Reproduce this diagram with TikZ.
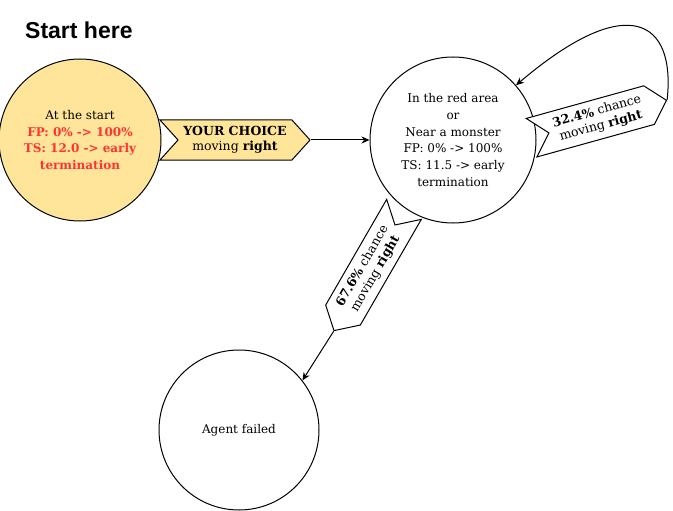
\documentclass[tikz,border=0pt]{standalone}
\usepackage{fontspec}
\setmainfont{DejaVu Serif}
\newfontfamily\headfont{Liberation Sans}
\usetikzlibrary{shapes.symbols,arrows.meta}
\definecolor{stateyellow}{HTML}{FFE599}
\definecolor{alertred}{HTML}{FF3333}
\tikzset{
  state/.style={circle, draw=black, line width=1pt, minimum size=162pt, inner sep=0pt,
    align=center, font=\fontsize{12}{16.7}\selectfont},
  tag/.style={signal, draw=black, line width=1pt, minimum height=40pt, inner sep=1pt,
    signal pointer angle=96, align=center, font=\fontsize{12.5}{15}\selectfont},
  link/.style={line width=1pt, -{Stealth[length=8pt,width=7pt]}},
}
\begin{document}
\begin{tikzpicture}[x=1pt,y=-1pt]
\useasboundingbox (0,0) rectangle (673,511);

\node[anchor=west, inner sep=0pt, font=\headfont\bfseries\fontsize{23}{26}\selectfont] (title) at (25,30) {Start here};

\node[state, fill=stateyellow] (start) at (80,140)
  {At the start\\
   {\color{alertred}\bfseries FP: 0\% -> 100\%}\\
   {\color{alertred}\bfseries TS: 12.0 -> early}\\
   {\color{alertred}\bfseries termination}};

\node[tag, fill=stateyellow, signal from=west, signal to=east, minimum width=150pt] (choice) at (235,140)
  {\textbf{YOUR CHOICE}\\moving \textbf{right}};

\node[state, minimum size=166pt] (danger) at (453,140)
  {In the red area\\or\\Near a monster\\FP: 0\% -> 100\%\\TS: 11.5 -> early\\termination};

\node[tag, fill=white, signal from=west, signal to=east, minimum width=140pt, rotate=15.5] (stay) at (599,119)
  {\textbf{32.4\%} chance\\moving \textbf{right}};

\node[tag, fill=white, signal from=east, signal to=west, minimum width=140pt, rotate=60] (fail) at (369,270)
  {\textbf{67.6\%} chance\\moving \textbf{right}};

\node[state, minimum size=160pt] (failed) at (239,430) {Agent failed};

\draw[link] (choice.east) -- (danger.west);
\draw[link] (stay.east) .. controls (676,20) and (628,-10) .. (danger.41);
\draw[link] (fail.west) -- (failed.38);
\end{tikzpicture}
\end{document}
